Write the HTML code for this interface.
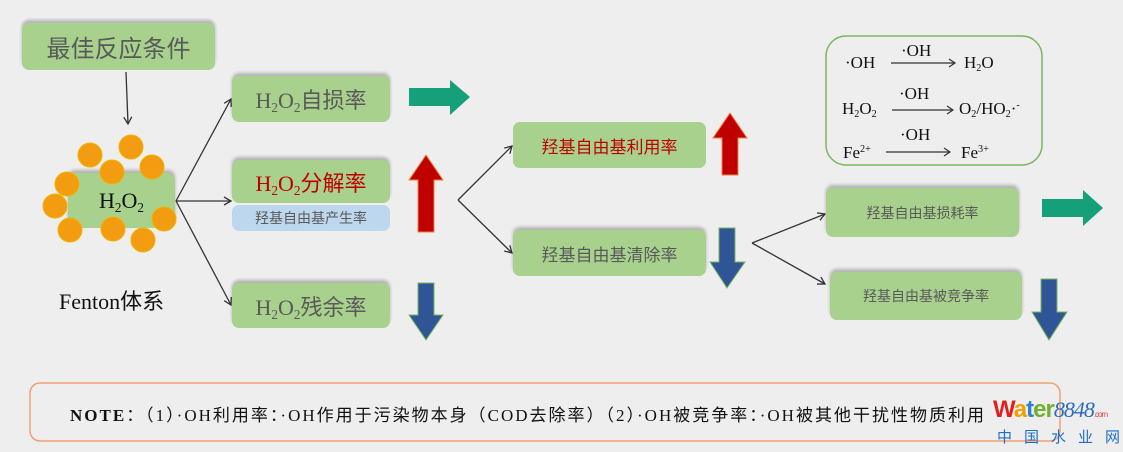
<!DOCTYPE html>
<html><head><meta charset="utf-8"><style>
body{margin:0;width:1123px;height:452px;background:#eeeeee;position:relative;overflow:hidden;font-family:"Liberation Sans","Noto Sans CJK SC",sans-serif}
.b{position:absolute;background:#a9d18e;border-radius:7px;box-shadow:0 -3px 3px rgba(0,0,0,0.25);display:flex;align-items:center;justify-content:center;color:#595959}
.s{font-family:"Liberation Serif","Noto Sans CJK SC",serif}
sub{font-size:0.6em;vertical-align:-0.3em;line-height:0}
sup{font-size:0.6em;vertical-align:0.6em;line-height:0}
.t{position:absolute;white-space:nowrap}
svg{position:absolute;left:0;top:0}
</style></head><body>
<svg width="1123" height="452">
<defs><marker id="a" markerWidth="10" markerHeight="10" refX="8" refY="5" orient="auto" markerUnits="userSpaceOnUse"><path d="M1,1 L8,5 L1,9" fill="none" stroke="#333" stroke-width="1.3"/></marker></defs>
<g stroke="#333" stroke-width="1.3" fill="none" marker-end="url(#a)">
<path d="M126,72 L128,124"/>
<path d="M176,201 L231,99"/>
<path d="M176,201 L231,201"/>
<path d="M176,201 L231,305"/>
<path d="M458,200 L512,146"/>
<path d="M458,200 L512,253"/>
<path d="M752,243 L825,214"/>
<path d="M752,243 L825,284"/>
</g>
<polygon points="409,88 450,88 450,80 470,97 450,115 450,106 409,106" fill="#16a07a"/>
<polygon points="1042,199 1083,199 1083,190 1103,208 1083,226 1083,217 1042,217" fill="#16a07a"/>
<polygon points="418,232 434,232 434,180 443,180 426,155 409,180 418,180" fill="#c00000" stroke="#f08040" stroke-width="1"/>
<polygon points="722,175 738,175 738,138 747,138 730,113 713,138 722,138" fill="#c00000" stroke="#f08040" stroke-width="1"/>
<polygon points="418,283 434,283 434,315 443,315 426,340 409,315 418,315" fill="#2f5597" stroke="#7ab55c" stroke-width="1"/>
<polygon points="719,228 735,228 735,262 745,262 727,288 710,262 719,262" fill="#2f5597" stroke="#7ab55c" stroke-width="1"/>
<polygon points="1041,279 1057,279 1057,312 1067,312 1049,340 1032,312 1041,312" fill="#2f5597" stroke="#7ab55c" stroke-width="1"/>
<rect x="826" y="36" width="216" height="129" rx="20" fill="none" stroke="#7ab55c" stroke-width="1.5"/>
<g stroke="#333" stroke-width="1.2" fill="none">
<path d="M891,63 L955,63 M949,59 L955,63 L949,67"/>
<path d="M892,110 L953,110 M947,106 L953,110 L947,114"/>
<path d="M886,152 L950,152 M944,148 L950,152 L944,156"/>
</g>
<rect x="30" y="383" width="1030" height="58" rx="10" fill="none" stroke="#f0a070" stroke-width="1.5"/>
</svg>
<div class="b" style="left:22px;top:23px;width:193px;height:47px;font-size:24px">最佳反应条件</div>
<div class="b s" style="left:68px;top:173px;width:107px;height:55px;font-size:22px;color:#111"><span>H<sub>2</sub>O<sub>2</sub></span></div>
<svg width="1123" height="452"><g fill="#f39c12" stroke="#f0b400" stroke-width="1">
<circle cx="90" cy="155" r="12"/><circle cx="131" cy="147" r="12"/><circle cx="112" cy="172" r="12"/><circle cx="152" cy="167" r="12"/><circle cx="67" cy="184" r="12"/><circle cx="55" cy="206" r="12"/><circle cx="70" cy="230" r="12"/><circle cx="113" cy="229" r="12"/><circle cx="143" cy="240" r="12"/><circle cx="164" cy="219" r="12"/></g></svg>
<div class="t s" style="left:59px;top:284px;font-size:22px;color:#111">Fenton<span style="font-family:'Noto Sans CJK SC',sans-serif">体系</span></div>
<div class="b s" style="left:232px;top:76px;width:158px;height:46px;font-size:22px"><span>H<sub>2</sub>O<sub>2</sub>自损率</span></div>
<div class="b s" style="left:232px;top:160px;width:158px;height:43px;font-size:22px;color:#c00000"><span>H<sub>2</sub>O<sub>2</sub>分解率</span></div>
<div class="b" style="left:232px;top:205px;width:158px;height:26px;font-size:14px;background:#bdd7ee;box-shadow:none">羟基自由基产生率</div>
<div class="b s" style="left:232px;top:283px;width:158px;height:45px;font-size:22px"><span>H<sub>2</sub>O<sub>2</sub>残余率</span></div>
<div class="b" style="left:513px;top:122px;width:193px;height:46px;font-size:17px;color:#c00000;box-shadow:none">羟基自由基利用率</div>
<div class="b" style="left:513px;top:230px;width:193px;height:46px;font-size:17px">羟基自由基清除率</div>
<div class="b" style="left:826px;top:188px;width:193px;height:49px;font-size:14px">羟基自由基损耗率</div>
<div class="b" style="left:830px;top:272px;width:192px;height:48px;font-size:14px">羟基自由基被竞争率</div>
<div class="s" style="position:absolute;left:0;top:0;font-size:17px;color:#111">
<div class="t" style="left:845px;top:53px">·OH</div>
<div class="t" style="left:901px;top:41px">·OH</div>
<div class="t" style="left:964px;top:53px">H<sub>2</sub>O</div>
<div class="t" style="left:842px;top:99px">H<sub>2</sub>O<sub>2</sub></div>
<div class="t" style="left:899px;top:84px">·OH</div>
<div class="t" style="left:959px;top:99px">O<sub>2</sub>/HO<sub>2</sub>·<sup>-</sup></div>
<div class="t" style="left:843px;top:143px">Fe<sup>2+</sup></div>
<div class="t" style="left:900px;top:125px">·OH</div>
<div class="t" style="left:961px;top:143px">Fe<sup>3+</sup></div>
</div>
<div class="t s" style="left:70px;top:401px;font-size:17px;letter-spacing:2px;color:#111"><b>NOTE</b>：（1）·OH利用率：·OH作用于污染物本身（COD去除率）（2）·OH被竞争率：·OH被其他干扰性物质利用</div>
<div class="t" style="left:993px;top:396px;font-size:24px;font-weight:bold;letter-spacing:-1px"><span style="color:#e02020">W</span><span style="color:#f0a000">a</span><span style="color:#3080d0">t</span><span style="color:#70b030">er</span><span class="s" style="color:#2a6cc0;font-style:italic;font-weight:normal;font-size:22px">8848</span><span style="color:#e04040;font-size:8px;font-weight:normal">.com</span></div>
<div class="t" style="left:997px;top:426px;font-size:15px;color:#1e6ec8;letter-spacing:12px">中国水业网</div>
</body></html>
